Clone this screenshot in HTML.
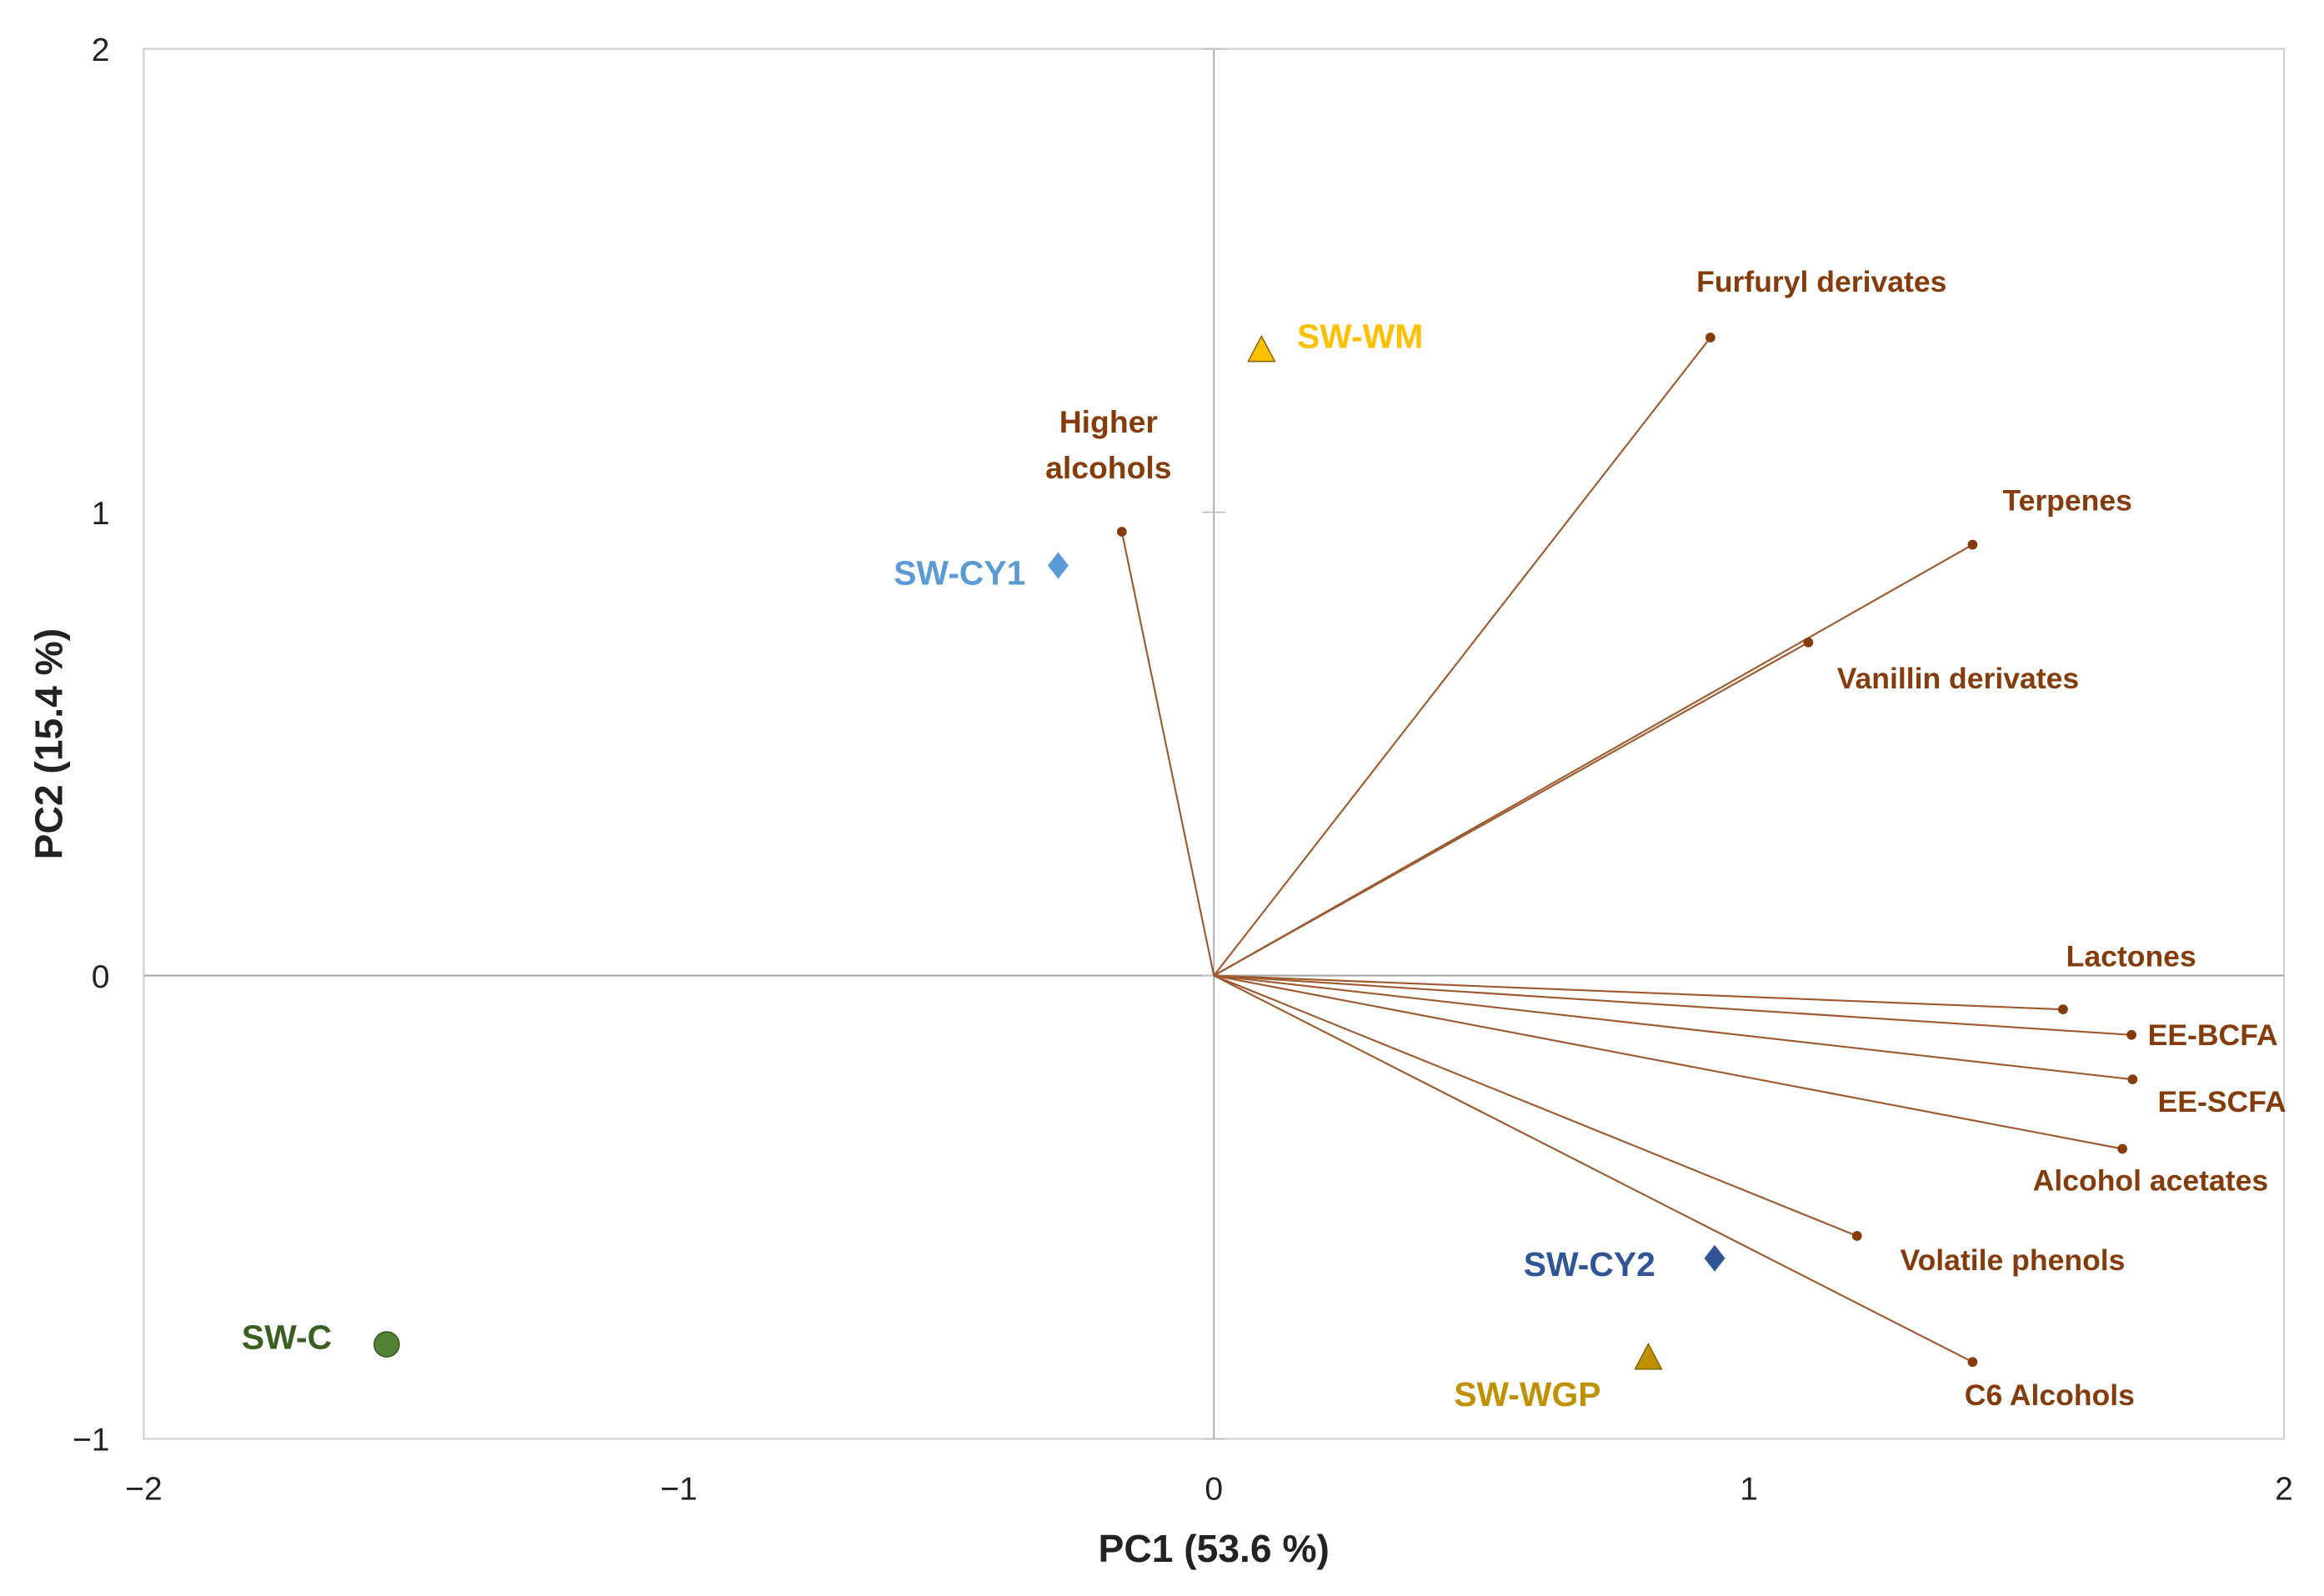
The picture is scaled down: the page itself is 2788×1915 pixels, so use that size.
<!DOCTYPE html>
<html><head><meta charset="utf-8"><style>
html,body{margin:0;padding:0;background:#fff}
svg{display:block}
text{font-family:"Liberation Sans",Arial,sans-serif}
</style></head><body>
<svg id="chart" width="2788" height="1915" viewBox="0 0 1568 1077" preserveAspectRatio="none" xmlns="http://www.w3.org/2000/svg">
<rect width="1568" height="1077" fill="#fff"/>
<g id="plot"></g>
</svg>
<script>
const xTicks=[-2,-1,0,1,2];
const yTicks=[-1,0,1,2];
const xTickLabels=["\u22122","\u22121","0","1","2"];
const yTickLabels=["\u22121","0","1","2"];
const varNames=["Furfuryl derivates","Terpenes","Vanillin derivates","Higher alcohols","Lactones","EE-BCFA","EE-SCFA","Alcohol acetates","Volatile phenols","C6 Alcohols"];
const varPC1=[0.928,1.418,1.111,-0.172,1.587,1.715,1.717,1.698,1.202,1.418];
const varPC2=[1.377,0.930,0.719,0.958,-0.073,-0.128,-0.224,-0.374,-0.562,-0.834];
const sampleNames=["SW-WM","SW-CY1","SW-CY2","SW-WGP","SW-C"];
const samplePC1=[0.089,-0.291,0.936,0.812,-1.546];
const samplePC2=[1.348,0.885,-0.610,-0.827,-0.796];

const L=97,R=1541,T=33,B=971;
const sx=v=>L+(v+2)/4*(R-L);
const sy=v=>B-(v+1)/3*(B-T);
const NS="http://www.w3.org/2000/svg";
const g=document.getElementById('plot');
function mk(tag,at,txt){const e=document.createElementNS(NS,tag);for(const k in at)e.setAttribute(k,at[k]);if(txt!==undefined)e.textContent=txt;g.appendChild(e);return e;}

let e=mk('rect',{x:L,y:T,width:R-L,height:B-T,fill:'none',stroke:'#d0d0d0','stroke-width':1.2});


e=mk('line',{x1:L,x2:R,y1:sy(0),y2:sy(0),stroke:'#a6a6a6','stroke-width':1.2});


e=mk('line',{x1:sx(0),x2:sx(0),y1:T,y2:B,stroke:'#a6a6a6','stroke-width':1});


yTicks.forEach((v,i)=>{
  const m=mk('line',{x1:sx(0)-8,x2:sx(0)+8,y1:sy(v),y2:sy(v),stroke:'#c0c0c0','stroke-width':1});
  
  
  const t=mk('text',{x:74,y:sy(v)+8,'text-anchor':'end','font-size':22,fill:'#222'},yTickLabels[i]);
  
  
});
xTicks.forEach((v,i)=>{
  const t=mk('text',{x:sx(v),y:1012,'text-anchor':'middle','font-size':22,fill:'#222'},xTickLabels[i]);
  
  
});
e=mk('text',{x:819,y:1054,'text-anchor':'middle','font-size':26,'font-weight':'bold',fill:'#222'},'PC1 (53.6 %)');


e=mk('text',{x:0,y:0,transform:'translate(42,502) rotate(-90)','text-anchor':'middle','font-size':26,'font-weight':'bold',fill:'#222'},'PC2 (15.4 %)');



const varLabelDx=[75,64,101,-9,46,11,17,19,105,52];
const varLabelDy=[-31,-23,31,-67,-29,7,22,28,23,29];
const varAnchor=['middle','middle','middle','middle','middle','start','start','middle','middle','middle'];
varNames.forEach((n,i)=>{
  const x=sx(varPC1[i]),y=sy(varPC2[i]);
  const l=mk('line',{x1:sx(0),y1:sy(0),x2:x,y2:y,stroke:'#9c5a2e','stroke-width':1.2});
  
  
  const c=mk('circle',{cx:x,cy:y,r:3.3,fill:'#843c0c'});
  
  
  let t;
  if(n==='Higher alcohols'){
    t=mk('text',{x:x+varLabelDx[i],y:y+varLabelDy[i],'text-anchor':'middle','font-size':21,'font-weight':'bold',fill:'#843c0c'},'Higher');
    const t2=mk('text',{x:x+varLabelDx[i],y:y+varLabelDy[i]+31,'text-anchor':'middle','font-size':21,'font-weight':'bold',fill:'#843c0c'},'alcohols');
    
    
  } else {
    t=mk('text',{x:x+varLabelDx[i],y:y+varLabelDy[i],'text-anchor':varAnchor[i],'font-size':20,'font-weight':'bold',fill:'#843c0c'},n);
  }
  
  
});

const sColors=['#ffc000','#5b9bd5','#2f5597','#bf9000','#548235'];
const sText=['#ffc000','#5b9bd5','#2f5597','#bf9000','#3b5e22'];
const sShape=['tri','dia','dia','tri','circ'];
const sLabDx=[24,-22,-40,-32,-37];
const sLabDy=[-2,13,12,32,3];
const sAnchor=['start','end','end','end','end'];
sampleNames.forEach((n,i)=>{
  const x=sx(samplePC1[i]),y=sy(samplePC2[i]);
  let m;
  if(sShape[i]==='tri') m=mk('polygon',{points:`${x},${y-10} ${x+9},${y+7} ${x-9},${y+7}`,fill:sColors[i],stroke:'#7f6000','stroke-width':0.8});
  else if(sShape[i]==='dia') m=mk('polygon',{points:`${x},${y-9} ${x+7},${y} ${x},${y+9} ${x-7},${y}`,fill:sColors[i]});
  else m=mk('circle',{cx:x,cy:y,r:8.5,fill:sColors[i],stroke:'#385723','stroke-width':0.8});
  
  
  const t=mk('text',{x:x+sLabDx[i],y:y+sLabDy[i],'text-anchor':sAnchor[i],'font-size':23,'font-weight':'bold',fill:sText[i]},n);
  
  
});
</script>
</body></html>
